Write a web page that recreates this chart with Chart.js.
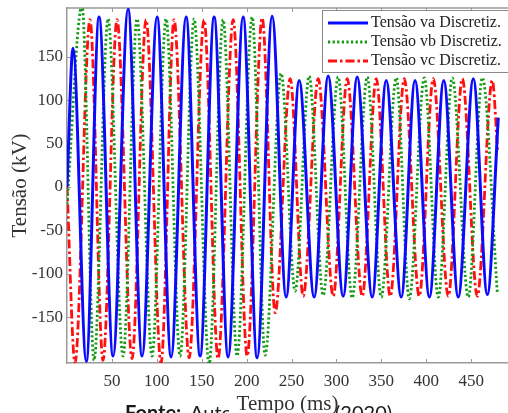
<!DOCTYPE html>
<html>
<head>
<meta charset="utf-8">
<script src="https://cdn.jsdelivr.net/npm/chart.js@4.4.0/dist/chart.umd.min.js"></script>
<style>
html,body{margin:0;padding:0;background:#fff;overflow:hidden}
#wrap{position:relative;width:508px;height:413px}
</style>
</head>
<body>
<div id="wrap"><canvas id="c" width="508" height="413"></canvas></div>
<script>
// ---- data ----
const seriesLabels = ['Tensão va Discretiz.', 'Tensão vb Discretiz.', 'Tensão vc Discretiz.'];

// phase a (blue): extremes, time in ms, voltage in kV
const vaTime = [0, 6.7, 21.5, 35.7, 51.3, 68.0, 83.6, 100.3, 115.9, 132.6, 148.2, 163.8, 179.4, 196.1, 211.7, 228.4, 244.0, 258.5, 275.2, 290.8, 307.5, 323.1, 339.8, 355.4, 372.1, 387.5, 403.5, 419.5, 435.6, 452.4, 468.0, 480.2];
const vaVolt = [0, 160, -201, 196, -195, 205, -195, 196, -196, 196, -195, 196, -196, 196, -197, 197, -127, 123, -127, 128, -126, 127, -127, 123, -127, 123, -127, 123, -127, 125, -124, 80];

// phase b (green)
const vbTime = [0, 16.7, 30.1, 45.7, 62.4, 78.0, 94.7, 110.3, 125.9, 141.5, 158.2, 173.8, 189.4, 206.1, 220.6, 238.4, 254.0, 269.6, 285.2, 301.9, 317.5, 334.3, 349.9, 366.6, 381.1, 397.8, 413.4, 429.0, 446.8, 462.4, 479.1];
const vbVolt = [-20, 209, -200, 194, -195, 194, -195, 194, -195, 194, -204, 193, -195, 196, -194, 131, -120, 128, -125, 127, -128, 127, -127, 126, -129, 126, -127, 126, -127, 126, -122];

// phase c (red)
const vcTime = [0, 8.9, 25.6, 40.1, 55.7, 72.4, 88.0, 104.7, 119.2, 136.0, 152.6, 168.2, 185.0, 200.6, 217.3, 231.8, 248.5, 263.0, 279.7, 296.4, 312.0, 328.7, 344.3, 359.9, 375.5, 392.2, 407.8, 424.5, 440.1, 456.8, 473.5, 479.5];
const vcVolt = [0, -203, 193, -200, 193, -198, 193, -203, 193, -197, 193, -198, 193, -195, 195, -145, 125, -126, 125, -126, 125, -126, 125, -126, 125, -126, 125, -126, 125, -126, 123, 40];

const xTickValues = [50, 100, 150, 200, 250, 300, 350, 400, 450];
const yTickValues = [-150, -100, -50, 0, 50, 100, 150];
const xTitle = 'Tempo (ms)';
const yTitle = 'Tensão (kV)';
const captionParts = ['Fonte:', 'Autor próprio', '(2020)'];

// ---- build ----
const toPts = (t, v) => t.map((x, i) => ({x: x, y: v[i]}));
const serif = 'Liberation Serif';

const decor = {
  id: 'decor',
  beforeDraw(chart) {
    const ctx = chart.ctx;
    ctx.save();
    ctx.fillStyle = '#fff';
    ctx.fillRect(0, 0, chart.width, chart.height);
    ctx.fillStyle = '#1a1a1a';
    ctx.textAlign = 'left';
    ctx.textBaseline = 'alphabetic';
    ctx.font = 'bold 20px Lato';
    ctx.fillText(captionParts[0], 125, 420);
    ctx.font = '20px Lato';
    ctx.fillText(captionParts[1], 190, 420);
    ctx.fillText(captionParts[2], 335, 420);
    ctx.fillStyle = '#fff';
    ctx.fillRect(229, 394, 105, 19);
    ctx.restore();
  },
  beforeDatasetsDraw(chart) {
    const {ctx, chartArea: a, scales: {x, y}} = chart;
    ctx.save();
    ctx.strokeStyle = '#9a9a9a';
    ctx.lineWidth = 1.5;
    ctx.beginPath();
    ctx.moveTo(a.left, a.top);
    ctx.lineTo(a.right, a.top);
    ctx.stroke();
    ctx.lineWidth = 1;
    ctx.beginPath();
    x.ticks.forEach(t => {
      const p = Math.round(x.getPixelForValue(t.value)) + 0.5;
      ctx.moveTo(p, a.bottom); ctx.lineTo(p, a.bottom - 4);
      ctx.moveTo(p, a.top); ctx.lineTo(p, a.top + 4);
    });
    y.ticks.forEach(t => {
      const p = Math.round(y.getPixelForValue(t.value)) + 0.5;
      ctx.moveTo(a.left, p); ctx.lineTo(a.left + 4, p);
    });
    ctx.stroke();
    ctx.restore();
  },
  afterDraw(chart) {
    const ctx = chart.ctx;
    ctx.save();
    const bx = 322, by = 10, bw = 192, bh = 62;
    ctx.fillStyle = '#fff';
    ctx.fillRect(bx, by, bw, bh);
    ctx.strokeStyle = '#8a8a8a';
    ctx.lineWidth = 1;
    ctx.strokeRect(bx + 0.5, by + 0.5, bw, bh);
    chart.data.datasets.forEach((ds, i) => {
      const yy = 23 + i * 19;
      ctx.strokeStyle = ds.borderColor;
      ctx.lineWidth = ds.borderWidth;
      ctx.setLineDash(ds.borderDash || []);
      ctx.beginPath();
      ctx.moveTo(328, yy);
      ctx.lineTo(368, yy);
      ctx.stroke();
      ctx.setLineDash([]);
      ctx.fillStyle = '#222';
      ctx.font = '16px "' + serif + '"';
      ctx.textBaseline = 'middle';
      ctx.textAlign = 'left';
      ctx.fillText(ds.label, 371, yy);
    });
    ctx.restore();
  }
};

new Chart(document.getElementById('c'), {
  type: 'line',
  data: {
    datasets: [
      {label: seriesLabels[0], data: toPts(vaTime, vaVolt), borderColor: '#0a0aff', borderWidth: 3, borderDash: []},
      {label: seriesLabels[1], data: toPts(vbTime, vbVolt), borderColor: '#139a13', borderWidth: 2.8, borderDash: [2.2, 2.4]},
      {label: seriesLabels[2], data: toPts(vcTime, vcVolt), borderColor: '#ff1010', borderWidth: 2.8, borderDash: [9, 3, 2.5, 3]}
    ]
  },
  options: {
    responsive: false,
    animation: false,
    devicePixelRatio: 1,
    layout: {padding: {top: 8, left: 0, right: 0, bottom: 0}},
    elements: {
      point: {radius: 0},
      line: {cubicInterpolationMode: 'monotone', fill: false, borderCapStyle: 'butt'}
    },
    plugins: {legend: {display: false}, tooltip: {enabled: false}},
    scales: {
      x: {
        type: 'linear', min: 0, max: 491,
        grid: {display: false, drawTicks: false},
        border: {color: '#9a9a9a', width: 1.5},
        ticks: {padding: 8, color: '#333', font: {family: serif, size: 17}, maxRotation: 0, autoSkip: false},
        afterBuildTicks: s => { s.ticks = xTickValues.map(v => ({value: v})); },
        afterFit: s => { s.height = 50; s.paddingLeft = 0; s.paddingRight = 0; },
        title: {display: true, text: xTitle, color: '#333', font: {family: serif, size: 21, lineHeight: 1}, padding: {top: 0, bottom: -2}}
      },
      y: {
        type: 'linear', min: -203, max: 206.5,
        grid: {display: false, drawTicks: false},
        border: {color: '#9a9a9a', width: 1.5},
        ticks: {padding: 4, color: '#333', font: {family: serif, size: 17}},
        afterBuildTicks: s => { s.ticks = yTickValues.map(v => ({value: v})); },
        afterFit: s => { s.width = 67; s.paddingTop = 0; s.paddingBottom = 0; },
        title: {display: true, text: yTitle, color: '#333', font: {family: serif, size: 21, lineHeight: 1}, padding: {top: 9.5, bottom: 0}}
      }
    }
  },
  plugins: [decor]
});
</script>
</body>
</html>
